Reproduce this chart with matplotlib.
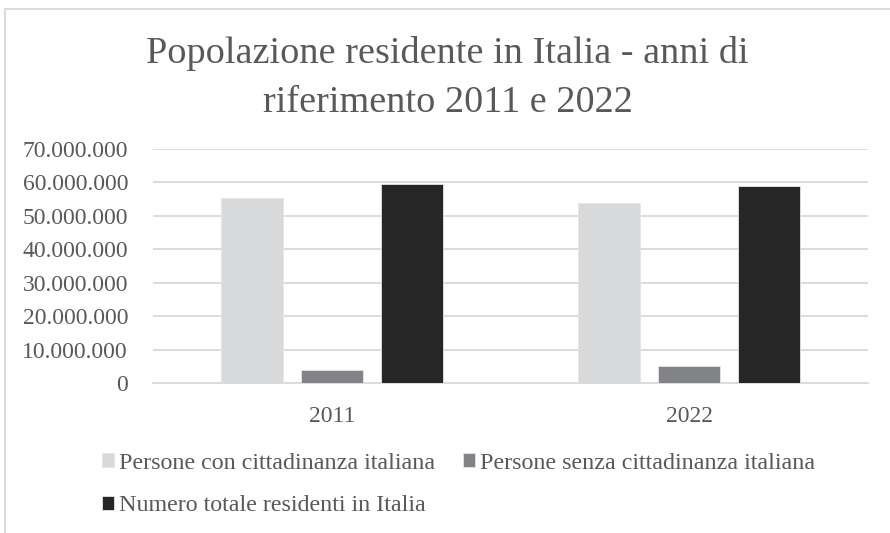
import matplotlib
matplotlib.use("Agg")
import matplotlib.pyplot as plt
import numpy as np
from matplotlib.patches import Rectangle
from matplotlib.font_manager import FontProperties

categories = ["2011", "2022"]
series_names = ["Persone con cittadinanza italiana",
                "Persone senza cittadinanza italiana",
                "Numero totale residenti in Italia"]
italiani = [55300000, 53800000]
stranieri = [4000000, 5100000]
totale = [59400000, 58900000]
series_values = [italiani, stranieri, totale]
y_ticks = [0, 10000000, 20000000, 30000000, 40000000, 50000000, 60000000, 70000000]
y_tick_labels = ["0", "10.000.000", "20.000.000", "30.000.000", "40.000.000",
                 "50.000.000", "60.000.000", "70.000.000"]
title_lines = ["Popolazione residente in Italia - anni di", "riferimento 2011 e 2022"]
colors = ["#d8d9db", "#828386", "#272627"]

FAM = 'Liberation Serif'
fp_tick = FontProperties(family=FAM, size=17)
fp_title = FontProperties(family=FAM, size=27.5)
fp_leg = FontProperties(family=FAM, size=17.3)
TXT = "#595959"

fig = plt.figure(figsize=(8.9, 5.33), dpi=100)
ax = fig.add_axes([153/890, 1-383.3/533, (868-153)/890, (383.3-149)/533])

x = np.arange(len(categories))
width = 0.173
step = 0.224
handles = []
for i, (name, vals, c) in enumerate(zip(series_names, series_values, colors)):
    h = ax.bar(x + (i-1)*step, vals, width, color=c, label=name,
               edgecolor="#e6e6e6", linewidth=0.6, zorder=3)
    handles.append(h)

ax.set_xlim(-0.5, 1.5)
ax.set_ylim(0, 70000000)
ax.set_yticks(y_ticks)
ax.set_yticklabels(y_tick_labels, fontproperties=fp_tick, color=TXT)
ax.set_xticks(x)
ax.set_xticklabels(categories, fontproperties=fp_tick, color=TXT)
ax.grid(axis='y', color="#d9d9d9", linewidth=1.3, zorder=0)
for s in ["top", "right", "left"]:
    ax.spines[s].set_visible(False)
ax.spines["bottom"].set_color("#d9d9d9")
ax.spines["bottom"].set_linewidth(1.3)
ax.tick_params(axis='both', length=0)
ax.tick_params(axis='y', pad=18)
ax.tick_params(axis='x', pad=16)

fig.text(0.503, 1-63/533, title_lines[0], ha='center', va='baseline',
         fontproperties=fp_title, color=TXT)
fig.text(0.503, 1-112/533, title_lines[1], ha='center', va='baseline',
         fontproperties=fp_title, color=TXT)

leg = fig.legend([handles[0], handles[2], handles[1]],
                 [series_names[0], series_names[2], series_names[1]],
                 ncol=2, loc='upper left', bbox_to_anchor=(101.7/890, 1-452.7/533),
                 frameon=False, prop=fp_leg, labelcolor=TXT,
                 handlelength=0.52, handleheight=0.52, handletextpad=0.2,
                 columnspacing=1.15, labelspacing=0.9, borderaxespad=0, borderpad=0)

fig.patches.append(Rectangle((5/890, -0.1), 1.2, 1-9/533+0.1, transform=fig.transFigure,
                             fill=False, edgecolor="#d9d9d9", linewidth=1.3))

fig.savefig("out.png", dpi=100)
